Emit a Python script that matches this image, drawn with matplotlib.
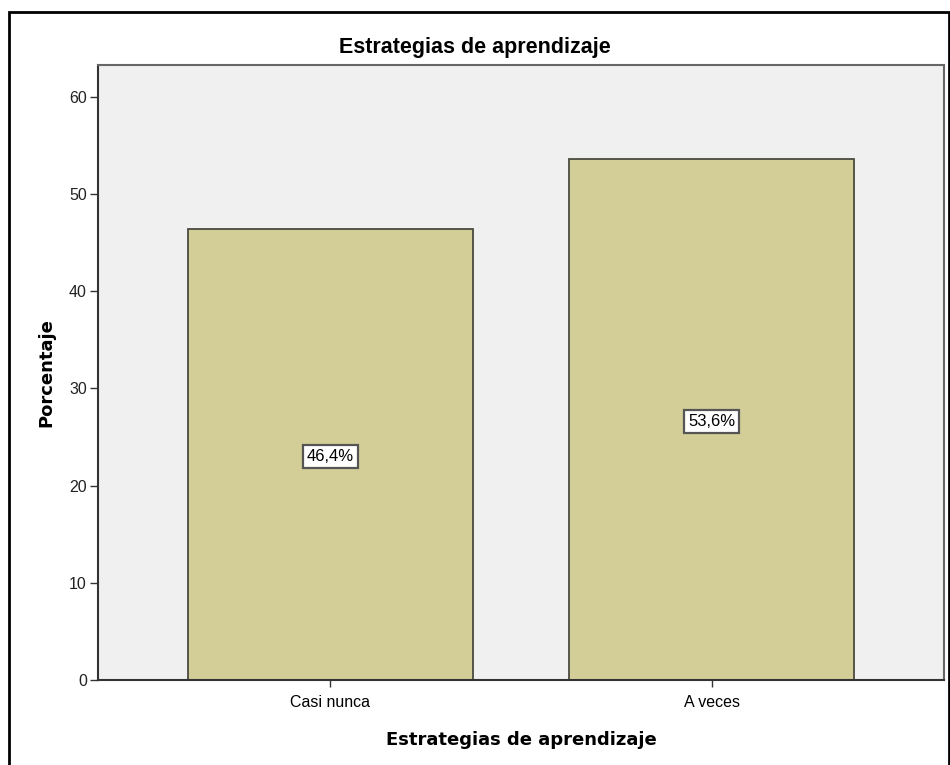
import matplotlib.pyplot as plt
from matplotlib.patches import Rectangle

# Data
categories = ['Casi nunca', 'A veces']
percentages = [46.4, 53.6]
value_labels = ['46,4%', '53,6%']
y_ticks = [0, 10, 20, 30, 40, 50, 60]

bar_color = '#d3ce98'
edge_color = '#4a4a40'

fig = plt.figure(figsize=(9.5, 7.65), dpi=100)
ax = fig.add_axes([98 / 950, 1 - 680 / 765, 846 / 950, 614.5 / 765])
ax.set_facecolor('#f0f0f0')

x = list(range(len(categories)))
ax.bar(x, percentages, width=0.75, color=bar_color, edgecolor=edge_color, linewidth=1.3)

# Value labels in the middle of each bar
for xi, val, lab in zip(x, percentages, value_labels):
    ax.text(xi, val / 2 - 0.2, lab, ha='center', va='center', fontsize=12,
            family='Liberation Sans',
            bbox=dict(boxstyle='square,pad=0.22', facecolor='white',
                      edgecolor='#555555', linewidth=1.6))

ax.set_xlim(-0.61, 1.61)
ax.set_ylim(0, 63.2)
ax.set_xticks(x)
ax.set_xticklabels(categories, family='Liberation Sans', fontsize=11.5)
ax.set_yticks(y_ticks)
ax.set_yticklabels([str(t) for t in y_ticks], family='Liberation Sans', fontsize=11.5)
ax.tick_params(axis='x', direction='out', length=5, width=1, color='#333333', pad=6)
ax.tick_params(axis='y', direction='out', length=6, width=1, color='#333333', pad=2,
               labelcolor='#222222')

for side in ['left', 'bottom']:
    ax.spines[side].set_color('#333333')
    ax.spines[side].set_linewidth(1.5)
for side in ['top', 'right']:
    ax.spines[side].set_color('#666666')
    ax.spines[side].set_linewidth(1.5)

# Titles
fig.text(0.5, 1 - 47 / 765, 'Estrategias de aprendizaje', ha='center', va='center',
         fontsize=15.5, fontweight='bold', family='Liberation Sans')
ax.set_xlabel('Estrategias de aprendizaje', fontsize=13, fontweight='bold', labelpad=15)
ax.set_ylabel('Porcentaje', fontsize=13, fontweight='bold', labelpad=10)

# Outer frame
fig.patches.append(Rectangle((9 / 950, -0.05), 940 / 950, 1.05 - 12.5 / 765,
                             transform=fig.transFigure, fill=False,
                             edgecolor='black', linewidth=2))

plt.savefig('out.png', dpi=100)
